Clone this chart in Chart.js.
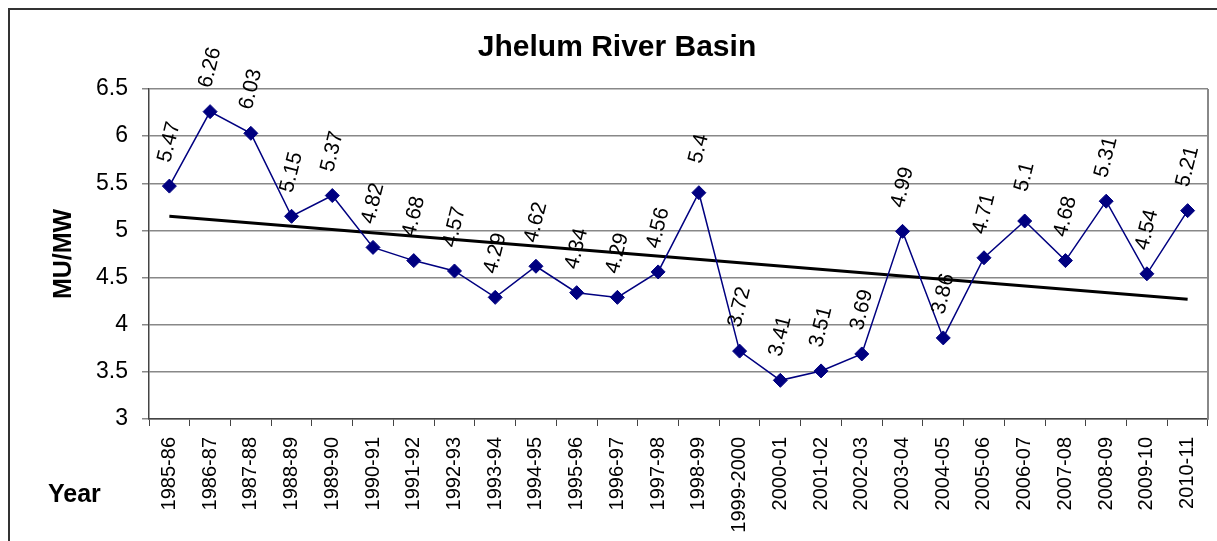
<!DOCTYPE html>
<html>
<head>
<meta charset="utf-8">
<script src="https://cdn.jsdelivr.net/npm/chart.js@4"></script>
<style>
    body { margin: 0; background: #fff; overflow: hidden; }
    #frame { position: absolute; left: 8px; top: 8px; width: 1230px; height: 560px; border: 2px solid #333; }
    #wrap { position: absolute; left: 0; top: 0; width: 1217px; height: 541px; }
</style>
</head>
<body>
<div id="frame"></div>
<div id="wrap"><canvas id="chart" width="1217" height="541"></canvas></div>
<script>
// Werte
const years = ['1985-86', '1986-87', '1987-88', '1988-89', '1989-90', '1990-91', '1991-92', '1992-93',
    '1993-94', '1994-95', '1995-96', '1996-97', '1997-98', '1998-99', '1999-2000', '2000-01', '2001-02',
    '2002-03', '2003-04', '2004-05', '2005-06', '2006-07', '2007-08', '2008-09', '2009-10', '2010-11'];
const muPerMw = [5.47, 6.26, 6.03, 5.15, 5.37, 4.82, 4.68, 4.57, 4.29, 4.62, 4.34, 4.29, 4.56, 5.4,
    3.72, 3.41, 3.51, 3.69, 4.99, 3.86, 4.71, 5.1, 4.68, 5.31, 4.54, 5.21];
const trendEnds = [5.15, 4.27];   // Trendlinie: Anfang und Ende
const yTicks = [3, 3.5, 4, 4.5, 5, 5.5, 6, 6.5];

const trendData = years.map((y, i) => i === 0 ? trendEnds[0] : (i === years.length - 1 ? trendEnds[1] : null));

// Rechter Rand der Zeichenfläche
const borderPlugin = {
    id: 'plotBorder',
    beforeDatasetsDraw(chart) {
        const a = chart.chartArea;
        const c = chart.ctx;
        c.save();
        c.strokeStyle = '#888';
        c.lineWidth = 2;
        c.beginPath();
        c.moveTo(a.right, a.top);
        c.lineTo(a.right, a.bottom);
        c.stroke();
        c.restore();
    }
};

// Titel, Achsentitel und gedrehte Datenbeschriftungen
const textPlugin = {
    id: 'texts',
    afterDatasetsDraw(chart) {
        const c = chart.ctx;
        c.save();
        c.fillStyle = '#000';
        c.textAlign = 'center';
        c.textBaseline = 'middle';
        c.font = 'bold 30px Arial, "Liberation Sans", sans-serif';
        c.fillText('Jhelum River Basin', 617, 48);

        c.font = 'bold 25px Arial, "Liberation Sans", sans-serif';
        c.textAlign = 'left';
        c.textBaseline = 'alphabetic';
        c.fillText('Year', 48, 502);

        c.save();
        c.translate(64, 254);
        c.rotate(-Math.PI / 2);
        c.textAlign = 'center';
        c.textBaseline = 'middle';
        c.fillText('MU/MW', 0, 0);
        c.restore();

        const meta = chart.getDatasetMeta(0);
        c.font = '21px Arial, "Liberation Sans", sans-serif';
        meta.data.forEach((pt, i) => {
            c.save();
            c.translate(pt.x, pt.y - 44);
            c.rotate(-76 * Math.PI / 180);
            c.textAlign = 'center';
            c.textBaseline = 'middle';
            c.fillText(String(muPerMw[i]), 0, 0);
            c.restore();
        });
        c.restore();
    }
};

const ctx = document.getElementById('chart').getContext('2d');
const jhelumChart = new Chart(ctx, {
    type: 'line',
    data: {
        labels: years,
        datasets: [{
            label: 'MU/MW',
            data: muPerMw,
            borderColor: '#000080',
            backgroundColor: '#000080',
            borderWidth: 1.5,
            pointStyle: 'rectRot',
            pointRadius: 7,
            pointBorderWidth: 1,
            tension: 0
        }, {
            label: 'Trend',
            data: trendData,
            borderColor: '#000',
            borderWidth: 3,
            pointRadius: 0,
            spanGaps: true,
            tension: 0
        }]
    },
    options: {
        responsive: false,
        animation: false,
        layout: { padding: { top: 89, right: 9, left: 0, bottom: 0 } },
        plugins: {
            legend: { display: false },
            title: { display: false },
            tooltip: { enabled: false }
        },
        scales: {
            x: {
                offset: true,
                grid: { offset: true, drawOnChartArea: false, tickLength: 7, color: '#444' },
                border: { color: '#444', width: 1.5 },
                ticks: {
                    autoSkip: false,
                    minRotation: 90,
                    maxRotation: 90,
                    padding: 11,
                    color: '#000',
                    font: { family: 'Arial, "Liberation Sans", sans-serif', size: 20 }
                },
                afterFit: function(scale) {
                    scale.height = 122;
                    scale.paddingLeft = 0;
                    scale.paddingRight = 0;
                }
            },
            y: {
                min: 3,
                max: 6.5,
                afterBuildTicks: function(scale) { scale.ticks = yTicks.map(v => ({ value: v })); },
                grid: { color: '#888', lineWidth: 1.5, tickLength: 7 },
                border: { color: '#444', width: 1.5 },
                ticks: {
                    padding: 14,
                    color: '#000',
                    font: { family: 'Arial, "Liberation Sans", sans-serif', size: 23 },
                    callback: v => String(v)
                },
                afterFit: function(scale) { scale.width = 149; }
            }
        }
    },
    plugins: [borderPlugin, textPlugin]
});
</script>
</body>
</html>
